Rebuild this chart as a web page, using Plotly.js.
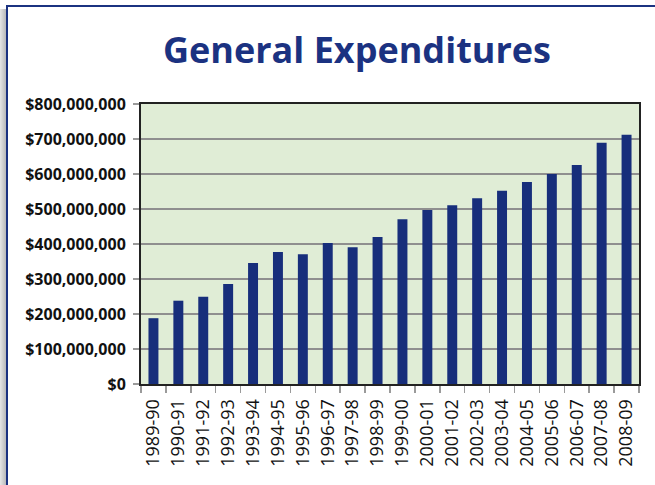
<!DOCTYPE html>
<html>
<head>
<meta charset="utf-8">
<script src="https://cdn.plot.ly/plotly-3.0.1.min.js"></script>
<style>
  html, body { margin: 0; padding: 0; background: #ffffff; }
  #wrap { position: relative; width: 655px; height: 485px; overflow: hidden; background: #fff; }
  #shadow { position: absolute; left: 0; top: 9px; width: 6px; height: 476px;
            background: linear-gradient(to right, #e6e6e6, #b9b9b9); }
  #frame { position: absolute; left: 6px; top: 5px; width: 660px; height: 490px;
           border-left: 2px solid #1B3281; border-top: 2px solid #1B3281; box-sizing: border-box; }
  #chart { position: absolute; left: 0; top: 0; width: 655px; height: 485px; }
</style>
</head>
<body>
<div id="wrap">
  <div id="shadow"></div>
  <div id="frame"></div>
  <div id="chart"></div>
</div>
<script>
const years = ["1989-90","1990-91","1991-92","1992-93","1993-94","1994-95","1995-96","1996-97","1997-98","1998-99",
               "1999-00","2000-01","2001-02","2002-03","2003-04","2004-05","2005-06","2006-07","2007-08","2008-09"];
const expenditures = [188e6, 238e6, 249e6, 286e6, 346e6, 377e6, 371e6, 403e6, 391e6, 420e6,
                      471e6, 497e6, 511e6, 531e6, 552e6, 577e6, 600e6, 626e6, 689e6, 712e6];
const yTicks = [0, 100e6, 200e6, 300e6, 400e6, 500e6, 600e6, 700e6, 800e6];

const trace = {
  type: 'bar',
  x: years,
  y: expenditures,
  marker: { color: '#172E7B', line: { width: 0 } },
  hoverinfo: 'x+y'
};

const layout = {
  width: 655, height: 485,
  margin: { l: 141, r: 16, t: 104, b: 101, pad: 0 },
  paper_bgcolor: 'rgba(0,0,0,0)',
  plot_bgcolor: '#E0EDD6',
  bargap: 0.6,
  showlegend: false,
  title: {
    text: 'General Expenditures',
    font: { family: 'Open Sans, sans-serif', size: 36, weight: 'bold', color: '#1B3281' },
    x: 0.545, xanchor: 'center', xref: 'container',
    y: 1 - 50 / 485, yanchor: 'middle', yref: 'container'
  },
  xaxis: {
    type: 'category',
    tickangle: -90,
    ticks: 'outside', tickson: 'boundaries', ticklen: 7, tickwidth: 1.5, tickcolor: '#9a9a9a',
    showline: true, mirror: true, linecolor: '#222222', linewidth: 2,
    showgrid: false,
    ticklabelstandoff: 6,
    tickfont: { family: 'Open Sans, sans-serif', size: 18, color: '#111111' }
  },
  yaxis: {
    range: [0, 800e6],
    tickvals: yTicks,
    tickformat: '$,',
    ticks: 'outside', ticklen: 6, tickwidth: 1.5, tickcolor: '#9a9a9a',
    showline: true, mirror: true, linecolor: '#222222', linewidth: 2,
    showgrid: true, gridcolor: '#8f8f8f', gridwidth: 1.5,
    zeroline: false,
    ticklabelstandoff: 4,
    tickfont: { family: 'Open Sans, sans-serif', size: 16, weight: 'bold', color: '#111111' }
  }
};

Plotly.newPlot('chart', [trace], layout, { displayModeBar: false, staticPlot: true });
</script>
</body>
</html>
